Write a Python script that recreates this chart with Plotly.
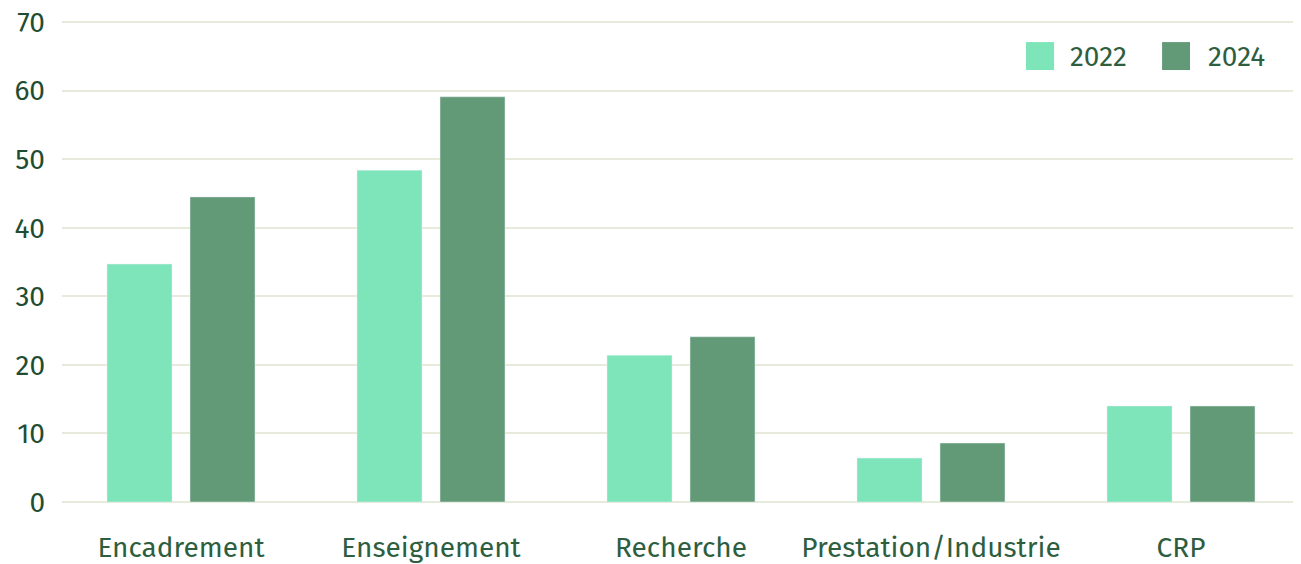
"""Grouped bar chart: activity breakdown 2022 vs 2024."""

import plotly.graph_objects as go

categories = ["Encadrement", "Enseignement", "Recherche", "Prestation/Industrie", "CRP"]
values_2022 = [34.7, 48.4, 21.4, 6.4, 14.0]
values_2024 = [44.5, 59.1, 24.1, 8.6, 14.0]
series_names = ["2022", "2024"]
y_ticks = [0, 10, 20, 30, 40, 50, 60, 70]

COLOR_2022 = "#7ee4b9"
COLOR_2024 = "#629a77"
TEXT_COLOR = "#1f4d33"
LABEL_COLOR = "#2d5e40"
GRID_COLOR = "#e6ebdc"
FONT = "Fira Sans, Noto Sans, Open Sans, sans-serif"

fig = go.Figure()
fig.add_trace(
    go.Bar(x=categories, y=values_2022, name=series_names[0],
           marker_color=COLOR_2022, showlegend=False)
)
fig.add_trace(
    go.Bar(x=categories, y=values_2024, name=series_names[1],
           marker_color=COLOR_2024, showlegend=False)
)

# custom legend: large square swatches + labels, top right
legend_items = [
    (series_names[0], COLOR_2022, 0.7793, 0.8020, 0.8133),
    (series_names[1], COLOR_2024, 0.8893, 0.9119, 0.9248),
]
for name, color, x0, x1, xt in legend_items:
    fig.add_shape(
        type="rect", xref="paper", yref="paper",
        x0=x0, x1=x1, y0=0.8962, y1=0.9542,
        fillcolor=color, line_width=0,
    )
    fig.add_annotation(
        text=name, xref="paper", yref="paper", x=xt, y=0.9252,
        xanchor="left", yanchor="middle", showarrow=False,
        font=dict(size=28, color=LABEL_COLOR),
    )

fig.update_layout(
    width=1293,
    height=556,
    barmode="group",
    bargap=0.336,
    bargroupgap=0.217,
    showlegend=False,
    plot_bgcolor="white",
    paper_bgcolor="white",
    font=dict(family=FONT, color=TEXT_COLOR, size=28),
    margin=dict(l=54, r=2, t=12, b=62, autoexpand=False),
    xaxis=dict(
        range=[-0.476, 4.472],
        showgrid=False,
        showline=False,
        ticks="",
        automargin=False,
        ticklabelstandoff=26,
        ticklabeloverflow="allow",
        tickfont=dict(size=28, color=LABEL_COLOR),
    ),
    yaxis=dict(
        range=[0, 70.3],
        tickvals=y_ticks,
        showgrid=True,
        gridcolor=GRID_COLOR,
        gridwidth=2,
        zeroline=True,
        zerolinecolor=GRID_COLOR,
        zerolinewidth=2,
        ticks="",
        automargin=False,
        ticklabelstandoff=16,
        ticklabeloverflow="allow",
        tickfont=dict(size=28, color=TEXT_COLOR),
    ),
)

fig.write_html("out.html")
